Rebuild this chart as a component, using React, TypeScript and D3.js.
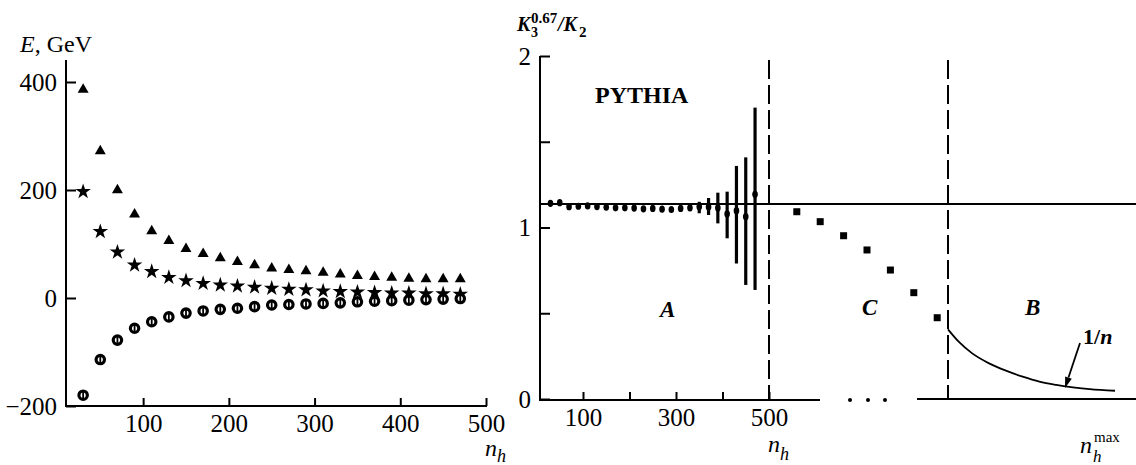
import React, { useEffect, useRef } from "react";
import * as d3 from "d3";

// left panel: E (GeV) vs n_h
const nhValues = [30, 50, 70, 90, 110, 130, 150, 170, 190, 210, 230, 250, 270, 290, 310, 330, 350, 370, 390, 410, 430, 450, 470];
const energyTriangle = [386, 272, 200, 155, 124, 106, 91, 82, 74, 67, 61, 55, 52, 50, 47, 44, 41, 39, 38, 36, 35, 35, 35];
const energyStar = [197, 123, 85, 61, 49, 38, 32, 27, 24, 22, 20, 18, 16, 15, 13, 12, 11, 10, 9, 9, 8, 8, 7];
const energyCircle = [-180, -114, -78, -56, -44, -35, -28, -24, -21, -19, -16, -13, -12, -11, -10, -9, -7, -6, -5, -4, -3, -2, -1];
const energyTicks = [-200, 0, 200, 400];
const nhTicksLeft = [100, 200, 300, 400, 500];

// right panel: K3^0.67/K2
const ratioA = [1.141, 1.145, 1.121, 1.124, 1.126, 1.122, 1.118, 1.115, 1.115, 1.113, 1.109, 1.111, 1.107, 1.105, 1.111, 1.115, 1.121, 1.12, 1.114, 1.079, 1.098, 1.063, 1.194];
const barNh = [310, 330, 350, 370, 390, 410, 430, 450, 470];
const barLow = [1.1, 1.095, 1.083, 1.073, 1.024, 0.937, 0.79, 0.665, 0.636];
const barHigh = [1.125, 1.14, 1.15, 1.172, 1.203, 1.209, 1.359, 1.409, 1.699];
const ratioLevel = 1.137;
const cIndex = [1, 2, 3, 4, 5, 6, 7];
const ratioC = [1.092, 1.034, 0.952, 0.869, 0.752, 0.62, 0.474];
const bPos = [0, 0.064, 0.145, 0.246, 0.347, 0.447, 0.547, 0.648, 0.748, 0.849, 1.0];
const ratioB = [0.406, 0.334, 0.266, 0.208, 0.165, 0.13, 0.101, 0.082, 0.068, 0.057, 0.048];
const ratioTicks = [0, 0.5, 1, 1.5, 2];
const ratioTickLabels = ["0", "", "1", "", "2"];
const nhTicksRight = [100, 200, 300, 400, 500];
const nhTickLabelsRight = ["100", "", "300", "", "500"];

const FONT = "Liberation Serif, Tinos, Times New Roman, Times, DejaVu Serif, serif";

export default function App() {
  const ref = useRef<SVGSVGElement>(null);

  useEffect(() => {
    const svg = d3.select(ref.current);
    svg.selectAll("*").remove();

    // ---------- left panel ----------
    const xL = d3.scaleLinear().domain([10, 500]).range([66, 486]);
    const yL = d3.scaleLinear().domain([-200, 400]).range([406, 82]);

    const left = svg.append("g");
    left.append("line").attr("x1", 66).attr("x2", 66).attr("y1", 60).attr("y2", 407)
      .attr("stroke", "#000").attr("stroke-width", 2);
    left.append("line").attr("x1", 65).attr("x2", 487).attr("y1", 406).attr("y2", 406)
      .attr("stroke", "#000").attr("stroke-width", 2);

    const yAxisL = left.append("g").attr("transform", "translate(66,0)")
      .call(d3.axisLeft(yL).tickValues(energyTicks).tickSize(-10).tickPadding(9)
        .tickFormat(d => (+d < 0 ? "\u2212" + Math.abs(+d) : String(d))));
    const xAxisL = left.append("g").attr("transform", "translate(0,406)")
      .call(d3.axisBottom(xL).tickValues(nhTicksLeft).tickSize(-8).tickPadding(8));

    [yAxisL, xAxisL].forEach(ax => {
      ax.attr("font-family", FONT);
      ax.select(".domain").remove();
      ax.selectAll("line").attr("stroke", "#000").attr("stroke-width", 2);
      ax.selectAll("text").style("font-family", FONT).attr("font-size", 25).attr("fill", "#000");
    });

    const tri = d3.symbol().type(d3.symbolTriangle).size(52);
    left.append("g").selectAll("path").data(energyTriangle).enter().append("path")
      .attr("d", tri)
      .attr("transform", (d, i) => `translate(${xL(nhValues[i])},${yL(d)})`)
      .attr("fill", "#000");

    const star = d3.symbol().type(d3.symbolStar).size(75);
    left.append("g").selectAll("path").data(energyStar).enter().append("path")
      .attr("d", star)
      .attr("transform", (d, i) => `translate(${xL(nhValues[i])},${yL(d)})`)
      .attr("fill", "#000");

    const circ = left.append("g").selectAll("g").data(energyCircle).enter().append("g")
      .attr("transform", (d, i) => `translate(${xL(nhValues[i])},${yL(d)})`);
    circ.append("circle").attr("r", 4.2).attr("fill", "#fff").attr("stroke", "#000").attr("stroke-width", 3.2);
    circ.append("line").attr("x1", 0).attr("x2", 0).attr("y1", -4.5).attr("y2", 4.5)
      .attr("stroke", "#000").attr("stroke-width", 1.8);

    // ---------- right panel ----------
    const xA = d3.scaleLinear().domain([0, 500]).range([536.5, 769]);
    const xC = d3.scaleLinear().domain([0, 8]).range([773.4, 960.6]);
    const xB = d3.scaleLinear().domain([0, 1]).range([948, 1115]);
    const yR = d3.scaleLinear().domain([0, 2]).range([399, 56]);

    const right = svg.append("g");
    right.append("line").attr("x1", 540).attr("x2", 540).attr("y1", 56).attr("y2", 400)
      .attr("stroke", "#000").attr("stroke-width", 2);
    right.append("line").attr("x1", 539).attr("x2", 820).attr("y1", 400).attr("y2", 400)
      .attr("stroke", "#000").attr("stroke-width", 2);
    right.append("line").attr("x1", 917).attr("x2", 1136).attr("y1", 399).attr("y2", 399)
      .attr("stroke", "#000").attr("stroke-width", 2);
    right.append("g").selectAll("circle").data([850, 868, 885]).enter().append("circle")
      .attr("cx", d => d).attr("cy", 400).attr("r", 2).attr("fill", "#000");

    const yAxisR = right.append("g").attr("transform", "translate(540,0)")
      .call(d3.axisLeft(yR).tickValues(ratioTicks).tickSize(-10).tickPadding(9)
        .tickFormat((d, i) => ratioTickLabels[i]));
    const xAxisR = right.append("g").attr("transform", "translate(0,400)")
      .call(d3.axisBottom(xA).tickValues(nhTicksRight).tickSize(-8).tickPadding(8)
        .tickFormat((d, i) => nhTickLabelsRight[i]));
    [yAxisR, xAxisR].forEach(ax => {
      ax.attr("font-family", FONT);
      ax.select(".domain").remove();
      ax.selectAll("line").attr("stroke", "#000").attr("stroke-width", 2);
      ax.selectAll("text").style("font-family", FONT).attr("font-size", 25).attr("fill", "#000");
    });

    // reference level
    right.append("line").attr("x1", 540).attr("x2", 1136)
      .attr("y1", yR(ratioLevel)).attr("y2", yR(ratioLevel))
      .attr("stroke", "#000").attr("stroke-width", 2);

    // dashed separators
    [xA(500), xB(0)].forEach(x => {
      right.append("line").attr("x1", x).attr("x2", x).attr("y1", 60).attr("y2", 399)
        .attr("stroke", "#000").attr("stroke-width", 2).attr("stroke-dasharray", "19,6");
    });

    // region A: error bars + points
    right.append("g").selectAll("line").data(barNh).enter().append("line")
      .attr("x1", d => xA(d)).attr("x2", d => xA(d))
      .attr("y1", (d, i) => yR(barLow[i])).attr("y2", (d, i) => yR(barHigh[i]))
      .attr("stroke", "#000").attr("stroke-width", 3.2);
    right.append("g").selectAll("ellipse").data(ratioA).enter().append("ellipse")
      .attr("cx", (d, i) => xA(nhValues[i])).attr("cy", d => yR(d))
      .attr("rx", 2.8).attr("ry", 3.6).attr("fill", "#000");

    // region C: squares
    right.append("g").selectAll("rect").data(ratioC).enter().append("rect")
      .attr("x", (d, i) => xC(cIndex[i]) - 3.5).attr("y", d => yR(d) - 3.5)
      .attr("width", 7).attr("height", 7).attr("fill", "#000");

    // region B: 1/n curve
    const line = d3.line<number>()
      .x((d, i) => xB(bPos[i]))
      .y(d => yR(d))
      .curve(d3.curveMonotoneX);
    right.append("path").attr("d", line(ratioB))
      .attr("fill", "none").attr("stroke", "#000").attr("stroke-width", 1.8);

    // arrow to curve
    const ax0 = 1080, ay0 = 343, ax1 = 1065, ay1 = 388;
    const ang = Math.atan2(ay1 - ay0, ax1 - ax0);
    const hl = 11, hw = 3.5;
    const bx = ax1 - hl * Math.cos(ang), by = ay1 - hl * Math.sin(ang);
    right.append("line").attr("x1", ax0).attr("y1", ay0).attr("x2", bx).attr("y2", by)
      .attr("stroke", "#000").attr("stroke-width", 1.8);
    right.append("path")
      .attr("d", `M${ax1},${ay1}L${bx + hw * Math.sin(ang)},${by - hw * Math.cos(ang)}L${bx - hw * Math.sin(ang)},${by + hw * Math.cos(ang)}Z`)
      .attr("fill", "#000");
  }, []);

  const txt = { fontFamily: FONT, fill: "#000" } as React.CSSProperties;

  return (
    <div style={{ position: "absolute", left: 0, top: 0, width: 1136, height: 465, background: "#fff" }}>
      <svg ref={ref} width={1136} height={465} style={{ position: "absolute", left: 0, top: 0 }} />
      <svg width={1136} height={465} style={{ position: "absolute", left: 0, top: 0 }}>
        <text x={20} y={52} fontSize={24} style={txt}>
          <tspan fontStyle="italic">E</tspan>, GeV
        </text>
        <text fontSize={24} fontStyle="italic" style={txt}>
          <tspan x={485} y={456}>n</tspan>
          <tspan x={497} y={462} fontSize={18}>h</tspan>
        </text>
        <text fontSize={20} fontWeight="bold" fontStyle="italic" style={txt}>
          <tspan x={517} y={31}>K</tspan>
          <tspan x={531} y={37} fontSize={14} fontStyle="normal">3</tspan>
          <tspan x={531} y={23} fontSize={15} fontStyle="normal">0.67</tspan>
          <tspan x={558} y={31}>/K</tspan>
          <tspan x={579} y={37} fontSize={15} fontStyle="normal">2</tspan>
        </text>
        <text x={595} y={103} fontSize={24} fontWeight="bold" style={txt}>PYTHIA</text>
        <text x={660} y={317} fontSize={23} fontWeight="bold" fontStyle="italic" style={txt}>A</text>
        <text x={862} y={315} fontSize={23} fontWeight="bold" fontStyle="italic" style={txt}>C</text>
        <text x={1025} y={315} fontSize={23} fontWeight="bold" fontStyle="italic" style={txt}>B</text>
        <text x={1083} y={344} fontSize={22} fontWeight="bold" style={txt}>
          1/<tspan fontStyle="italic">n</tspan>
        </text>
        <text fontSize={24} fontStyle="italic" style={txt}>
          <tspan x={768} y={452}>n</tspan>
          <tspan x={780} y={460} fontSize={18}>h</tspan>
        </text>
        <text fontSize={24} fontStyle="italic" style={txt}>
          <tspan x={1080} y={453}>n</tspan>
          <tspan x={1093} y={462} fontSize={17}>h</tspan>
          <tspan x={1094} y={442} fontSize={15} fontStyle="normal">max</tspan>
        </text>
      </svg>
    </div>
  );
}
